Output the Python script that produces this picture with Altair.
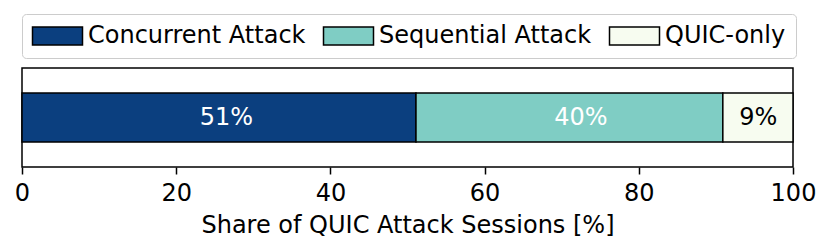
import altair as alt
import pandas as pd

categories = ["Concurrent Attack", "Sequential Attack", "QUIC-only"]
shares = [51.1, 39.8, 9.1]
label_text = ["51%", "40%", "9%"]
label_pos = [26.5, 72.5, 95.5]
label_colors = ["white", "white", "black"]
colors = ["#0b3f7f", "#7fcdc4", "#f7fcf0"]
x_ticks = [0, 20, 40, 60, 80, 100]

starts = []
acc = 0.0
for v in shares:
    starts.append(acc)
    acc += v
ends = [s + v for s, v in zip(starts, shares)]

df = pd.DataFrame({
    "category": categories,
    "share": shares,
    "start": starts,
    "end": ends,
    "label": label_text,
    "label_pos": label_pos,
    "label_color": label_colors,
    "row": ["all"] * len(categories),
})

FONT = "DejaVu Sans"

xscale = alt.Scale(domain=[0, 100], nice=False, zero=False)

bars = alt.Chart(df).mark_bar(size=49, stroke="black", strokeWidth=1.5).encode(
    x=alt.X("start:Q", scale=xscale, title="Share of QUIC Attack Sessions [%]",
            axis=alt.Axis(values=x_ticks, grid=False, domain=False, tickColor="black",
                          tickSize=7, tickWidth=1.5, labelFontSize=24, labelFont=FONT,
                          labelColor="black", labelPadding=7, labelFlush=False,
                          labelOverlap=False, titleFontSize=24, titleFont=FONT,
                          titleFontWeight="normal", titleColor="black", titlePadding=8)),
    x2="end:Q",
    y=alt.Y("row:N", axis=None, title=None),
    color=alt.Color("category:N", scale=alt.Scale(domain=categories, range=colors),
                    legend=alt.Legend(orient="none", legendX=0, legendY=-54,
                                      direction="horizontal", columns=3, title=None,
                                      symbolType="M-1.15,-0.9L3.85,-0.9L3.85,0.9L-1.15,0.9Z",
                                      symbolSize=400, symbolStrokeColor="black",
                                      symbolStrokeWidth=1.5, symbolOpacity=1,
                                      labelFontSize=24, labelFont=FONT, labelColor="black",
                                      labelOffset=32, labelLimit=500, columnPadding=14,
                                      padding=10, strokeColor="#cccccc", fillColor="white",
                                      cornerRadius=4)),
)

texts = alt.Chart(df).mark_text(fontSize=24, font=FONT, baseline="middle", align="center").encode(
    x=alt.X("label_pos:Q", scale=xscale),
    y=alt.Y("row:N", axis=None),
    text="label:N",
    color=alt.Color("label_color:N", scale=None, legend=None),
)

chart = alt.layer(bars, texts).properties(
    width=771, height=99,
    autosize=alt.AutoSizeParams(type="none"),
    padding={"left": 14, "top": 60, "right": 30, "bottom": 77},
).configure_view(stroke="black", strokeWidth=1.5)

chart.save("out.html", embed_options={"renderer": "svg", "actions": False})
